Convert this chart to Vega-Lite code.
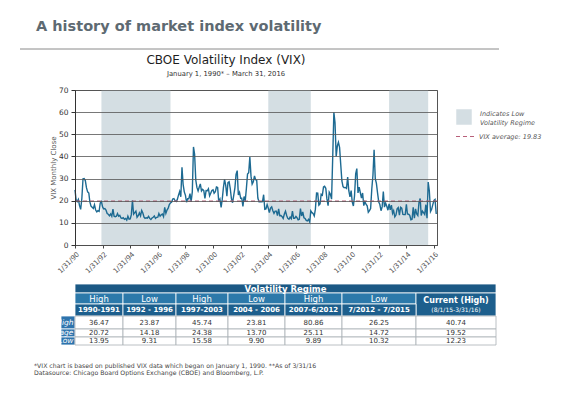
{
  "$schema": "https://vega.github.io/schema/vega-lite/v6.json",
  "padding": {"left": 19, "top": 18, "right": 5, "bottom": 5},
  "background": "white",
  "config": {"font": "DejaVu Sans", "view": {"stroke": null}},
  "title": {"text": "A history of market index volatility", "anchor": "start", "frame": "group", "dx": -39, "fontSize": 14.5, "fontWeight": "bold", "color": "#5e6a72", "offset": 14},
  "spacing": 3,
  "datasets": {
    "regimes": [
      {"start": "1991-12-31", "end": "1996-12-31"},
      {"start": "2004-01-31", "end": "2007-02-28"},
      {"start": "2012-10-31", "end": "2015-08-31"}
    ],
    "vix": [
      {"d":"1990-01-31","v":24.9},{"d":"1990-02-28","v":20.5},{"d":"1990-03-31","v":19.6},{"d":"1990-04-30","v":20.6},{"d":"1990-05-31","v":17.8},{"d":"1990-06-30","v":16.1},{"d":"1990-07-31","v":21.0},{"d":"1990-08-31","v":29.9},{"d":"1990-09-30","v":30.0},{"d":"1990-10-31","v":29.1},{"d":"1990-11-30","v":25.9},{"d":"1990-12-31","v":24.0},
      {"d":"1991-01-31","v":23.5},{"d":"1991-02-28","v":19.5},{"d":"1991-03-31","v":17.5},{"d":"1991-04-30","v":17.0},{"d":"1991-05-31","v":16.5},{"d":"1991-06-30","v":18.2},{"d":"1991-07-31","v":15.8},{"d":"1991-08-31","v":15.0},{"d":"1991-09-30","v":15.5},{"d":"1991-10-31","v":15.2},{"d":"1991-11-30","v":19.0},{"d":"1991-12-31","v":19.6},
      {"d":"1992-01-31","v":17.2},{"d":"1992-02-28","v":16.3},{"d":"1992-03-31","v":16.5},{"d":"1992-04-30","v":15.8},{"d":"1992-05-31","v":14.2},{"d":"1992-06-30","v":13.9},{"d":"1992-07-31","v":13.2},{"d":"1992-08-31","v":14.0},{"d":"1992-09-30","v":13.0},{"d":"1992-10-31","v":16.2},{"d":"1992-11-30","v":13.0},{"d":"1992-12-31","v":12.8},
      {"d":"1993-01-31","v":13.0},{"d":"1993-02-28","v":14.2},{"d":"1993-03-31","v":13.0},{"d":"1993-04-30","v":13.4},{"d":"1993-05-31","v":12.2},{"d":"1993-06-30","v":12.0},{"d":"1993-07-31","v":12.3},{"d":"1993-08-31","v":11.6},{"d":"1993-09-30","v":12.0},{"d":"1993-10-31","v":11.2},{"d":"1993-11-30","v":13.0},{"d":"1993-12-31","v":11.7},
      {"d":"1994-01-31","v":11.8},{"d":"1994-02-28","v":13.6},{"d":"1994-03-31","v":20.2},{"d":"1994-04-30","v":13.9},{"d":"1994-05-31","v":14.6},{"d":"1994-06-30","v":15.3},{"d":"1994-07-31","v":12.5},{"d":"1994-08-31","v":13.2},{"d":"1994-09-30","v":14.5},{"d":"1994-10-31","v":13.2},{"d":"1994-11-30","v":15.6},{"d":"1994-12-31","v":14.4},
      {"d":"1995-01-31","v":12.6},{"d":"1995-02-28","v":12.0},{"d":"1995-03-31","v":12.3},{"d":"1995-04-30","v":12.1},{"d":"1995-05-31","v":12.9},{"d":"1995-06-30","v":12.0},{"d":"1995-07-31","v":11.5},{"d":"1995-08-31","v":12.2},{"d":"1995-09-30","v":12.5},{"d":"1995-10-31","v":13.1},{"d":"1995-11-30","v":12.0},{"d":"1995-12-31","v":12.5},
      {"d":"1996-01-31","v":12.6},{"d":"1996-02-28","v":14.2},{"d":"1996-03-31","v":13.0},{"d":"1996-04-30","v":13.6},{"d":"1996-05-31","v":14.0},{"d":"1996-06-30","v":12.8},{"d":"1996-07-31","v":17.0},{"d":"1996-08-31","v":14.3},{"d":"1996-09-30","v":15.8},{"d":"1996-10-31","v":16.6},{"d":"1996-11-30","v":18.3},{"d":"1996-12-31","v":19.0},
      {"d":"1997-01-31","v":19.4},{"d":"1997-02-28","v":20.8},{"d":"1997-03-31","v":21.0},{"d":"1997-04-30","v":20.1},{"d":"1997-05-31","v":19.7},{"d":"1997-06-30","v":20.6},{"d":"1997-07-31","v":22.5},{"d":"1997-08-31","v":24.2},{"d":"1997-09-30","v":21.8},{"d":"1997-10-31","v":35.1},{"d":"1997-11-30","v":27.4},{"d":"1997-12-31","v":24.0},
      {"d":"1998-01-31","v":22.4},{"d":"1998-02-28","v":19.3},{"d":"1998-03-31","v":20.9},{"d":"1998-04-30","v":20.9},{"d":"1998-05-31","v":23.2},{"d":"1998-06-30","v":19.6},{"d":"1998-07-31","v":24.0},{"d":"1998-08-31","v":44.3},{"d":"1998-09-30","v":40.9},{"d":"1998-10-31","v":29.3},{"d":"1998-11-30","v":26.0},{"d":"1998-12-31","v":24.4},
      {"d":"1999-01-31","v":26.2},{"d":"1999-02-28","v":27.6},{"d":"1999-03-31","v":24.4},{"d":"1999-04-30","v":25.1},{"d":"1999-05-31","v":24.6},{"d":"1999-06-30","v":21.1},{"d":"1999-07-31","v":24.6},{"d":"1999-08-31","v":24.5},{"d":"1999-09-30","v":25.4},{"d":"1999-10-31","v":22.2},{"d":"1999-11-30","v":23.4},{"d":"1999-12-31","v":24.6},
      {"d":"2000-01-31","v":24.9},{"d":"2000-02-28","v":23.4},{"d":"2000-03-31","v":24.1},{"d":"2000-04-30","v":26.2},{"d":"2000-05-31","v":26.0},{"d":"2000-06-30","v":19.5},{"d":"2000-07-31","v":20.7},{"d":"2000-08-31","v":17.0},{"d":"2000-09-30","v":20.6},{"d":"2000-10-31","v":25.9},{"d":"2000-11-30","v":29.6},{"d":"2000-12-31","v":26.9},
      {"d":"2001-01-31","v":22.0},{"d":"2001-02-28","v":28.2},{"d":"2001-03-31","v":28.6},{"d":"2001-04-30","v":25.5},{"d":"2001-05-31","v":20.9},{"d":"2001-06-30","v":19.1},{"d":"2001-07-31","v":22.4},{"d":"2001-08-31","v":25.8},{"d":"2001-09-30","v":31.9},{"d":"2001-10-31","v":33.6},{"d":"2001-11-30","v":22.6},{"d":"2001-12-31","v":23.8},
      {"d":"2002-01-31","v":21.1},{"d":"2002-02-28","v":21.1},{"d":"2002-03-31","v":17.4},{"d":"2002-04-30","v":21.9},{"d":"2002-05-31","v":19.9},{"d":"2002-06-30","v":25.4},{"d":"2002-07-31","v":32.0},{"d":"2002-08-31","v":32.6},{"d":"2002-09-30","v":39.7},{"d":"2002-10-31","v":31.1},{"d":"2002-11-30","v":27.5},{"d":"2002-12-31","v":28.6},
      {"d":"2003-01-31","v":31.2},{"d":"2003-02-28","v":29.6},{"d":"2003-03-31","v":29.2},{"d":"2003-04-30","v":21.2},{"d":"2003-05-31","v":19.5},{"d":"2003-06-30","v":19.5},{"d":"2003-07-31","v":19.5},{"d":"2003-08-31","v":19.6},{"d":"2003-09-30","v":22.7},{"d":"2003-10-31","v":16.1},{"d":"2003-11-30","v":16.3},{"d":"2003-12-31","v":18.3},
      {"d":"2004-01-31","v":16.6},{"d":"2004-02-28","v":14.6},{"d":"2004-03-31","v":16.7},{"d":"2004-04-30","v":17.2},{"d":"2004-05-31","v":15.5},{"d":"2004-06-30","v":14.3},{"d":"2004-07-31","v":15.3},{"d":"2004-08-31","v":15.3},{"d":"2004-09-30","v":13.3},{"d":"2004-10-31","v":16.3},{"d":"2004-11-30","v":13.2},{"d":"2004-12-31","v":13.3},
      {"d":"2005-01-31","v":12.8},{"d":"2005-02-28","v":12.0},{"d":"2005-03-31","v":14.0},{"d":"2005-04-30","v":15.3},{"d":"2005-05-31","v":13.3},{"d":"2005-06-30","v":12.0},{"d":"2005-07-31","v":11.6},{"d":"2005-08-31","v":12.6},{"d":"2005-09-30","v":11.9},{"d":"2005-10-31","v":15.3},{"d":"2005-11-30","v":12.1},{"d":"2005-12-31","v":12.1},
      {"d":"2006-01-31","v":12.9},{"d":"2006-02-28","v":12.3},{"d":"2006-03-31","v":11.4},{"d":"2006-04-30","v":11.6},{"d":"2006-05-31","v":16.4},{"d":"2006-06-30","v":13.1},{"d":"2006-07-31","v":14.9},{"d":"2006-08-31","v":12.3},{"d":"2006-09-30","v":12.0},{"d":"2006-10-31","v":11.1},{"d":"2006-11-30","v":10.9},{"d":"2006-12-31","v":11.6},
      {"d":"2007-01-31","v":10.4},{"d":"2007-02-28","v":15.4},{"d":"2007-03-31","v":14.6},{"d":"2007-04-30","v":14.2},{"d":"2007-05-31","v":13.1},{"d":"2007-06-30","v":16.2},{"d":"2007-07-31","v":23.5},{"d":"2007-08-31","v":23.4},{"d":"2007-09-30","v":18.0},{"d":"2007-10-31","v":18.5},{"d":"2007-11-30","v":22.9},{"d":"2007-12-31","v":22.5},
      {"d":"2008-01-31","v":26.2},{"d":"2008-02-28","v":26.5},{"d":"2008-03-31","v":25.6},{"d":"2008-04-30","v":20.8},{"d":"2008-05-31","v":17.8},{"d":"2008-06-30","v":23.9},{"d":"2008-07-31","v":22.9},{"d":"2008-08-31","v":20.7},{"d":"2008-09-30","v":39.4},{"d":"2008-10-31","v":59.9},{"d":"2008-11-30","v":55.3},{"d":"2008-12-31","v":40.0},
      {"d":"2009-01-31","v":44.8},{"d":"2009-02-28","v":46.4},{"d":"2009-03-31","v":44.1},{"d":"2009-04-30","v":36.5},{"d":"2009-05-31","v":28.9},{"d":"2009-06-30","v":26.4},{"d":"2009-07-31","v":25.9},{"d":"2009-08-31","v":26.0},{"d":"2009-09-30","v":25.6},{"d":"2009-10-31","v":30.7},{"d":"2009-11-30","v":24.5},{"d":"2009-12-31","v":21.7},
      {"d":"2010-01-31","v":24.6},{"d":"2010-02-28","v":19.5},{"d":"2010-03-31","v":17.6},{"d":"2010-04-30","v":22.1},{"d":"2010-05-31","v":32.1},{"d":"2010-06-30","v":34.5},{"d":"2010-07-31","v":23.5},{"d":"2010-08-31","v":26.1},{"d":"2010-09-30","v":23.7},{"d":"2010-10-31","v":21.2},{"d":"2010-11-30","v":23.5},{"d":"2010-12-31","v":17.8},
      {"d":"2011-01-31","v":19.5},{"d":"2011-02-28","v":18.4},{"d":"2011-03-31","v":17.7},{"d":"2011-04-30","v":14.8},{"d":"2011-05-31","v":15.5},{"d":"2011-06-30","v":16.5},{"d":"2011-07-31","v":25.3},{"d":"2011-08-31","v":31.6},{"d":"2011-09-30","v":43.0},{"d":"2011-10-31","v":30.0},{"d":"2011-11-30","v":27.8},{"d":"2011-12-31","v":23.4},
      {"d":"2012-01-31","v":19.4},{"d":"2012-02-28","v":18.4},{"d":"2012-03-31","v":15.5},{"d":"2012-04-30","v":17.2},{"d":"2012-05-31","v":24.1},{"d":"2012-06-30","v":17.1},{"d":"2012-07-31","v":18.9},{"d":"2012-08-31","v":17.5},{"d":"2012-09-30","v":15.7},{"d":"2012-10-31","v":18.6},{"d":"2012-11-30","v":15.9},{"d":"2012-12-31","v":18.0},
      {"d":"2013-01-31","v":14.3},{"d":"2013-02-28","v":15.5},{"d":"2013-03-31","v":12.7},{"d":"2013-04-30","v":13.5},{"d":"2013-05-31","v":16.3},{"d":"2013-06-30","v":16.9},{"d":"2013-07-31","v":13.5},{"d":"2013-08-31","v":17.0},{"d":"2013-09-30","v":16.6},{"d":"2013-10-31","v":13.8},{"d":"2013-11-30","v":13.7},{"d":"2013-12-31","v":13.7},
      {"d":"2014-01-31","v":18.4},{"d":"2014-02-28","v":14.0},{"d":"2014-03-31","v":13.9},{"d":"2014-04-30","v":13.4},{"d":"2014-05-31","v":11.4},{"d":"2014-06-30","v":11.6},{"d":"2014-07-31","v":17.0},{"d":"2014-08-31","v":12.1},{"d":"2014-09-30","v":16.3},{"d":"2014-10-31","v":14.0},{"d":"2014-11-30","v":13.3},{"d":"2014-12-31","v":19.2},
      {"d":"2015-01-31","v":21.0},{"d":"2015-02-28","v":13.3},{"d":"2015-03-31","v":15.3},{"d":"2015-04-30","v":14.6},{"d":"2015-05-31","v":13.8},{"d":"2015-06-30","v":18.2},{"d":"2015-07-31","v":12.1},{"d":"2015-08-31","v":28.4},{"d":"2015-09-30","v":24.5},{"d":"2015-10-31","v":15.1},{"d":"2015-11-30","v":16.1},{"d":"2015-12-31","v":18.2},
      {"d":"2016-01-31","v":20.2},{"d":"2016-02-28","v":20.6},{"d":"2016-03-31","v":14.0}
    ],
    "table": [
      {"k":"h1","t":"Volatility Regime","r0":0,"r1":1,"c0":0,"c1":7},
      {"k":"h2","t":"High","r0":1,"r1":2,"c0":0,"c1":1},
      {"k":"h2","t":"Low","r0":1,"r1":2,"c0":1,"c1":2},
      {"k":"h2","t":"High","r0":1,"r1":2,"c0":2,"c1":3},
      {"k":"h2","t":"Low","r0":1,"r1":2,"c0":3,"c1":4},
      {"k":"h2","t":"High","r0":1,"r1":2,"c0":4,"c1":5},
      {"k":"h2","t":"Low","r0":1,"r1":2,"c0":5,"c1":6},
      {"k":"cur","t":"Current (High)","r0":1,"r1":3,"c0":6,"c1":7},
      {"k":"cursub","t":"(8/1/15-3/31/16)","r0":1,"r1":3,"c0":6,"c1":7},
      {"k":"h3","t":"1990-1991","r0":2,"r1":3,"c0":0,"c1":1},
      {"k":"h3","t":"1992 - 1996","r0":2,"r1":3,"c0":1,"c1":2},
      {"k":"h3","t":"1997-2003","r0":2,"r1":3,"c0":2,"c1":3},
      {"k":"h3","t":"2004 - 2006","r0":2,"r1":3,"c0":3,"c1":4},
      {"k":"h3","t":"2007-6/2012","r0":2,"r1":3,"c0":4,"c1":5},
      {"k":"h3","t":"7/2012 - 7/2015","r0":2,"r1":3,"c0":5,"c1":6},
      {"k":"lab","t":"High","r0":3,"r1":4,"c0":-1,"c1":0},
      {"k":"lab","t":"Average","r0":4,"r1":5,"c0":-1,"c1":0},
      {"k":"lab","t":"Low","r0":5,"r1":6,"c0":-1,"c1":0},
      {"k":"val","t":"36.47","r0":3,"r1":4,"c0":0,"c1":1},
      {"k":"val","t":"23.87","r0":3,"r1":4,"c0":1,"c1":2},
      {"k":"val","t":"45.74","r0":3,"r1":4,"c0":2,"c1":3},
      {"k":"val","t":"23.81","r0":3,"r1":4,"c0":3,"c1":4},
      {"k":"val","t":"80.86","r0":3,"r1":4,"c0":4,"c1":5},
      {"k":"val","t":"26.25","r0":3,"r1":4,"c0":5,"c1":6},
      {"k":"val","t":"40.74","r0":3,"r1":4,"c0":6,"c1":7},
      {"k":"val","t":"20.72","r0":4,"r1":5,"c0":0,"c1":1},
      {"k":"val","t":"14.18","r0":4,"r1":5,"c0":1,"c1":2},
      {"k":"val","t":"24.38","r0":4,"r1":5,"c0":2,"c1":3},
      {"k":"val","t":"13.70","r0":4,"r1":5,"c0":3,"c1":4},
      {"k":"val","t":"25.11","r0":4,"r1":5,"c0":4,"c1":5},
      {"k":"val","t":"14.72","r0":4,"r1":5,"c0":5,"c1":6},
      {"k":"val","t":"19.52","r0":4,"r1":5,"c0":6,"c1":7},
      {"k":"val","t":"13.95","r0":5,"r1":6,"c0":0,"c1":1},
      {"k":"val","t":"9.31","r0":5,"r1":6,"c0":1,"c1":2},
      {"k":"val","t":"15.58","r0":5,"r1":6,"c0":2,"c1":3},
      {"k":"val","t":"9.90","r0":5,"r1":6,"c0":3,"c1":4},
      {"k":"val","t":"9.89","r0":5,"r1":6,"c0":4,"c1":5},
      {"k":"val","t":"10.32","r0":5,"r1":6,"c0":5,"c1":6},
      {"k":"val","t":"12.23","r0":5,"r1":6,"c0":6,"c1":7}
    ]
  },
  "vconcat": [
    {
      "width": 362, "height": 1,
      "data": {"values": [{}]},
      "mark": {"type": "rule", "color": "#8a8a8a", "strokeWidth": 1},
      "encoding": {
        "x": {"datum": 0, "type": "quantitative", "scale": {"domain": [0, 1], "range": [-55, 424]}, "axis": null},
        "x2": {"datum": 1},
        "y": {"datum": 0, "type": "quantitative", "scale": {"domain": [0, 1]}, "axis": null}
      }
    },
    {
      "width": 362, "height": 155,
      "view": {"stroke": "#555"},
      "title": {"text": "CBOE Volatility Index (VIX)", "subtitle": "January 1, 1990* \u2013 March 31, 2016", "anchor": "middle", "frame": "group", "dx": -30, "fontSize": 12, "fontWeight": "normal", "color": "#1e1e1e", "subtitleFontSize": 6.8, "subtitleColor": "#333", "subtitlePadding": 4, "offset": 7},
      "layer": [
        {
          "data": {"name": "regimes"},
          "mark": {"type": "rect"},
          "encoding": {
            "x": {"field": "start", "type": "temporal",
              "scale": {"type": "utc", "domain": [{"year": 1990, "month": 1, "date": 31, "utc": true}, {"year": 2016, "month": 4, "date": 20, "utc": true}]},
              "axis": {"title": null, "format": "%-m/%d/%y", "grid": false, "labelAngle": -45, "labelAlign": "right", "labelBaseline": "top", "labelFontSize": 7, "labelColor": "#555", "tickSize": 3, "tickColor": "#444", "domainColor": "#333", "labelPadding": 2, "labelOverlap": false, "labelFlush": false, "minExtent": 34,
                "values": [{"year":1990,"month":1,"date":31,"utc":true},{"year":1992,"month":1,"date":31,"utc":true},{"year":1994,"month":1,"date":31,"utc":true},{"year":1996,"month":1,"date":31,"utc":true},{"year":1998,"month":1,"date":31,"utc":true},{"year":2000,"month":1,"date":31,"utc":true},{"year":2002,"month":1,"date":31,"utc":true},{"year":2004,"month":1,"date":31,"utc":true},{"year":2006,"month":1,"date":31,"utc":true},{"year":2008,"month":1,"date":31,"utc":true},{"year":2010,"month":1,"date":31,"utc":true},{"year":2012,"month":1,"date":31,"utc":true},{"year":2014,"month":1,"date":31,"utc":true},{"year":2016,"month":1,"date":31,"utc":true}]}},
            "x2": {"field": "end"},
            "color": {"datum": "low", "type": "nominal", "scale": {"domain": ["low"], "range": ["#d4dee3"]},
              "legend": {"orient": "none", "legendX": 381, "legendY": 61, "title": null, "symbolType": "square", "symbolSize": 240, "symbolStrokeWidth": 0, "labelExpr": "['Indicates Low', 'Volatility Regime']", "labelBaseline": "bottom", "labelFontSize": 6.5, "labelFontStyle": "italic", "labelColor": "#555", "labelOffset": 8, "padding": 0}}
          }
        },
        {
          "data": {"name": "vix"},
          "mark": {"type": "line", "color": "#1d6a92", "strokeWidth": 1.4},
          "encoding": {
            "x": {"field": "d", "type": "temporal",
              "scale": {"type": "utc", "domain": [{"year": 1990, "month": 1, "date": 31, "utc": true}, {"year": 2016, "month": 4, "date": 20, "utc": true}]},
              "axis": {"title": null, "format": "%-m/%d/%y", "grid": false, "labelAngle": -45, "labelAlign": "right", "labelBaseline": "top", "labelFontSize": 7, "labelColor": "#555", "tickSize": 3, "tickColor": "#444", "domainColor": "#333", "labelPadding": 2, "labelOverlap": false, "labelFlush": false, "minExtent": 34,
                "values": [{"year":1990,"month":1,"date":31,"utc":true},{"year":1992,"month":1,"date":31,"utc":true},{"year":1994,"month":1,"date":31,"utc":true},{"year":1996,"month":1,"date":31,"utc":true},{"year":1998,"month":1,"date":31,"utc":true},{"year":2000,"month":1,"date":31,"utc":true},{"year":2002,"month":1,"date":31,"utc":true},{"year":2004,"month":1,"date":31,"utc":true},{"year":2006,"month":1,"date":31,"utc":true},{"year":2008,"month":1,"date":31,"utc":true},{"year":2010,"month":1,"date":31,"utc":true},{"year":2012,"month":1,"date":31,"utc":true},{"year":2014,"month":1,"date":31,"utc":true},{"year":2016,"month":1,"date":31,"utc":true}]}},
            "y": {"field": "v", "type": "quantitative", "scale": {"domain": [0, 70], "nice": false},
              "axis": {"values": [0,10,20,30,40,50,60,70], "labelOverlap": false, "title": "VIX Monthly Close", "titleFontSize": 7, "titleFontWeight": "normal", "titleColor": "#555", "titleX": -19, "titleY": 77.5, "labelFontSize": 7.5, "labelColor": "#333", "tickSize": 4, "tickColor": "#333", "labelPadding": 3, "grid": true, "gridColor": "#555", "gridWidth": 0.8, "domainColor": "#333", "minExtent": 55, "zindex": 1}}
          }
        },
        {
          "data": {"values": [{}]},
          "mark": {"type": "rule", "color": "#b8607a", "strokeWidth": 1.2},
          "encoding": {
            "y": {"datum": 19.83, "type": "quantitative", "scale": {"domain": [0, 70], "nice": false},
              "axis": {"values": [0,10,20,30,40,50,60,70], "labelOverlap": false, "title": "VIX Monthly Close", "titleFontSize": 7, "titleFontWeight": "normal", "titleColor": "#555", "titleX": -19, "titleY": 77.5, "labelFontSize": 7.5, "labelColor": "#333", "tickSize": 4, "tickColor": "#333", "labelPadding": 3, "grid": true, "gridColor": "#555", "gridWidth": 0.8, "domainColor": "#333", "minExtent": 55, "zindex": 1}},
            "strokeDash": {"datum": "VIX average: 19.83", "type": "nominal", "scale": {"domain": ["VIX average: 19.83"], "range": [[4, 3]]},
              "legend": {"orient": "none", "legendX": 380, "legendY": 78, "title": null, "symbolType": "stroke", "symbolSize": 361, "symbolStrokeColor": "#b8607a", "symbolStrokeWidth": 1.2, "labelFontSize": 6.5, "labelFontStyle": "italic", "labelColor": "#555", "labelOffset": 3, "padding": 0}}
          }
        }
      ]
    },
    {
      "width": 421, "height": 61,
      "data": {"name": "table"},
      "transform": [
        {"calculate": "(datum.c0 + datum.c1) / 2", "as": "cx"},
        {"calculate": "(datum.r0 + datum.r1) / 2", "as": "cy"}
      ],
      "title": {"text": ["*VIX chart is based on published VIX data which began on January 1, 1990. **As of 3/31/16", "Datasource:   Chicago Board Options Exchange (CBOE) and Bloomberg, L.P."], "orient": "bottom", "anchor": "start", "frame": "group", "dx": -41, "fontSize": 6.2, "fontWeight": "normal", "color": "#444", "offset": 18, "lineHeight": 7},
      "resolve": {"scale": {"x": "independent", "y": "independent"}},
      "layer": [
        {
          "transform": [{"filter": "datum.k != 'cursub'"}],
          "mark": {"type": "rect", "strokeWidth": 0.8},
          "encoding": {
            "x": {"field": "c0", "type": "quantitative", "scale": {"domain": [-1,0,1,2,3,4,5,6,7], "range": [-14,0,48,101,153,210,267,341,421], "nice": false, "zero": false}, "axis": null},
            "x2": {"field": "c1"},
            "y": {"field": "r0", "type": "quantitative", "scale": {"domain": [0,1,2,3,4,5,6], "range": [0,9,20,32,45,53,61], "nice": false, "zero": false}, "axis": null},
            "y2": {"field": "r1"},
            "fill": {"field": "k", "type": "nominal", "scale": {"domain": ["h1","h2","h3","cur","lab","val"], "range": ["#1b5985","#2c79aa","#1d5f8d","#1d5f8d","#2e74ad","#ffffff"]}, "legend": null},
            "stroke": {"field": "k", "type": "nominal", "scale": {"domain": ["h1","h2","h3","cur","lab","val"], "range": ["#ffffff","#ffffff","#ffffff","#ffffff","#ffffff","#a9b0b5"]}, "legend": null}
          }
        },
        {
          "transform": [{"filter": "datum.k == 'h1'"}],
          "mark": {"type": "text", "color": "white", "fontWeight": "bold", "fontSize": 8.5},
          "encoding": {
            "x": {"field": "cx", "type": "quantitative", "scale": {"domain": [0, 7], "range": [0, 421]}, "axis": null},
            "y": {"field": "cy", "type": "quantitative", "scale": {"domain": [0,1,2,3,4,5,6], "range": [0,9,20,32,45,53,61], "nice": false, "zero": false}, "axis": null},
            "text": {"field": "t"}
          }
        },
        {
          "transform": [{"filter": "datum.k == 'h3'"}],
          "mark": {"type": "text", "color": "white", "fontWeight": "bold", "fontSize": 7},
          "encoding": {
            "x": {"field": "cx", "type": "quantitative", "scale": {"domain": [-1,0,1,2,3,4,5,6,7], "range": [-14,0,48,101,153,210,267,341,421], "nice": false, "zero": false}, "axis": null},
            "y": {"field": "cy", "type": "quantitative", "scale": {"domain": [0,1,2,3,4,5,6], "range": [0,9,20,32,45,53,61], "nice": false, "zero": false}, "axis": null},
            "text": {"field": "t"}
          }
        },
        {
          "transform": [{"filter": "datum.k == 'cur'"}],
          "mark": {"type": "text", "color": "white", "fontWeight": "bold", "fontSize": 8, "dy": -4},
          "encoding": {
            "x": {"field": "cx", "type": "quantitative", "scale": {"domain": [-1,0,1,2,3,4,5,6,7], "range": [-14,0,48,101,153,210,267,341,421], "nice": false, "zero": false}, "axis": null},
            "y": {"field": "cy", "type": "quantitative", "scale": {"domain": [1, 3], "range": [9, 32]}, "axis": null},
            "text": {"field": "t"}
          }
        },
        {
          "transform": [{"filter": "datum.k == 'cursub'"}],
          "mark": {"type": "text", "color": "white", "fontSize": 6, "dy": 5},
          "encoding": {
            "x": {"field": "cx", "type": "quantitative", "scale": {"domain": [-1,0,1,2,3,4,5,6,7], "range": [-14,0,48,101,153,210,267,341,421], "nice": false, "zero": false}, "axis": null},
            "y": {"field": "cy", "type": "quantitative", "scale": {"domain": [1, 3], "range": [9, 32]}, "axis": null},
            "text": {"field": "t"}
          }
        },
        {
          "transform": [{"filter": "datum.k == 'h2'"}],
          "mark": {"type": "text", "color": "white", "fontSize": 8.5},
          "encoding": {
            "x": {"field": "cx", "type": "quantitative", "scale": {"domain": [-1,0,1,2,3,4,5,6,7], "range": [-14,0,48,101,153,210,267,341,421], "nice": false, "zero": false}, "axis": null},
            "y": {"field": "cy", "type": "quantitative", "scale": {"domain": [0,1,2,3,4,5,6], "range": [0,9,20,32,45,53,61], "nice": false, "zero": false}, "axis": null},
            "text": {"field": "t"}
          }
        },
        {
          "transform": [{"filter": "datum.k == 'lab'"}],
          "mark": {"type": "text", "color": "white", "fontSize": 7.5, "fontStyle": "italic", "align": "right", "dx": -1.5},
          "encoding": {
            "x": {"field": "c1", "type": "quantitative", "scale": {"domain": [-1,0,1,2,3,4,5,6,7], "range": [-14,0,48,101,153,210,267,341,421], "nice": false, "zero": false}, "axis": null},
            "y": {"field": "cy", "type": "quantitative", "scale": {"domain": [0,1,2,3,4,5,6], "range": [0,9,20,32,45,53,61], "nice": false, "zero": false}, "axis": null},
            "text": {"field": "t"}
          }
        },
        {
          "transform": [{"filter": "datum.k == 'val'"}],
          "mark": {"type": "text", "color": "#333", "fontSize": 7},
          "encoding": {
            "x": {"field": "cx", "type": "quantitative", "scale": {"domain": [-1,0,1,2,3,4,5,6,7], "range": [-14,0,48,101,153,210,267,341,421], "nice": false, "zero": false}, "axis": null},
            "y": {"field": "cy", "type": "quantitative", "scale": {"domain": [0,1,2,3,4,5,6], "range": [0,9,20,32,45,53,61], "nice": false, "zero": false}, "axis": null},
            "text": {"field": "t"}
          }
        }
      ]
    }
  ]
}
